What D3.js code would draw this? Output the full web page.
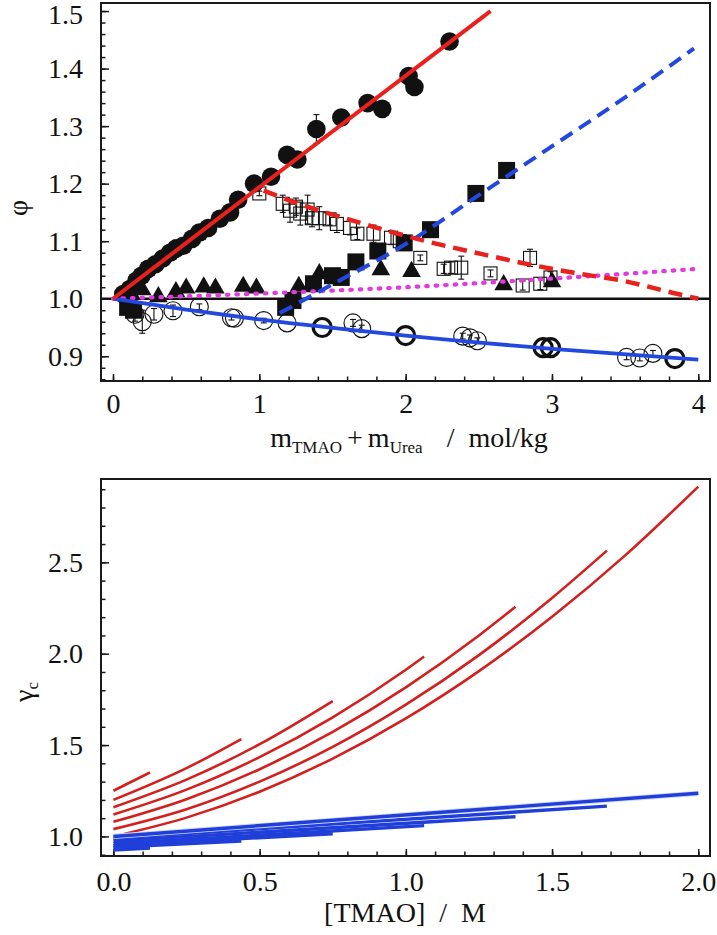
<!DOCTYPE html>
<html><head><meta charset="utf-8">
<script src="https://cdn.jsdelivr.net/npm/d3@7"></script>
<style>
body{margin:0;background:#fff;}
svg{display:block;}
</style></head>
<body>
<svg id="c" width="717" height="935" font-family="Liberation Serif"></svg>
<script>
// ---------- Top panel data (phi vs m_TMAO + m_Urea) ----------
const topXTicks = [0, 1, 2, 3, 4];
const topYTicks = [0.9, 1.0, 1.1, 1.2, 1.3, 1.4, 1.5];
// filled circles [x, y, err]
const filledCircles = [[0.07,1.008,0],[0.116,1.017,0],[0.16,1.031,0.008],[0.195,1.04,0],[0.24,1.052,0],[0.29,1.06,0],[0.34,1.07,0],[0.39,1.08,0],[0.43,1.087,0.015],[0.48,1.092,0],[0.54,1.104,0],[0.59,1.115,0],[0.65,1.123,0],[0.73,1.139,0],[0.80,1.15,0],[0.855,1.172,0],[0.964,1.20,0],[1.08,1.212,0],[1.19,1.25,0],[1.26,1.242,0],[1.39,1.295,0.025],[1.56,1.315,0],[1.74,1.34,0],[1.84,1.33,0],[2.02,1.387,0],[2.06,1.368,0],[2.30,1.447,0]];
// filled squares [x, y]
const filledSquares = [[0.10,0.985],[0.14,0.98],[1.18,0.985],[1.23,0.997],[1.37,1.026],[1.50,1.04],[1.56,1.037],[1.66,1.064],[1.81,1.083],[1.99,1.097],[2.17,1.12],[2.48,1.183],[2.69,1.223]];
// filled triangles [x, y]
const filledTriangles = [[0.12,1.012],[0.2,1.017],[0.31,1.005],[0.43,1.014],[0.5,1.02],[0.62,1.022],[0.7,1.02],[0.89,1.023],[0.98,1.02],[1.27,1.023],[1.41,1.045],[1.83,1.052],[2.04,1.049],[2.67,1.026],[3.0,1.031]];
// open squares [x, y, err]
const openSquares = [[1.0,1.183,0.004],[1.16,1.165,0.015],[1.21,1.153,0.02],[1.25,1.16,0.015],[1.28,1.148,0.02],[1.33,1.155,0.025],[1.36,1.14,0.015],[1.41,1.14,0.02],[1.48,1.138,0.01],[1.53,1.13,0.015],[1.62,1.123,0.012],[1.67,1.113,0.01],[1.78,1.113,0.015],[1.90,1.106,0.012],[1.96,1.10,0.01],[2.10,1.071,0.005],[2.26,1.052,0.008],[2.31,1.054,0.01],[2.38,1.054,0.02],[2.58,1.044,0.006],[2.85,1.071,0.015],[2.80,1.023,0.008],[2.92,1.026,0.01],[2.99,1.037,0.01]];
// open circles [x, y, err, bold]
const openCircles = [[0.12,0.985,0.01,0],[0.15,0.973,0.012,0],[0.2,0.96,0.02,0],[0.28,0.973,0.01,0],[0.41,0.979,0.01,0],[0.59,0.986,0.005,0],[0.81,0.967,0.004,0],[0.83,0.966,0,0],[1.03,0.962,0.004,0],[1.19,0.958,0,0],[1.43,0.95,0,1],[1.64,0.958,0.006,0],[1.70,0.948,0.006,0],[2.0,0.936,0,1],[2.39,0.935,0.005,0],[2.44,0.932,0.005,0],[2.49,0.927,0.005,0],[2.94,0.915,0,1],[2.99,0.915,0,1],[3.51,0.898,0.004,0],[3.60,0.897,0.005,0],[3.69,0.905,0.005,0],[3.84,0.896,0,1]];
// fit lines
const redSolid = [[0,1.0],[2.58,1.5]];
const redDash = [[1.03,1.188],[1.28,1.164],[1.57,1.141],[1.89,1.117],[2.14,1.10],[2.53,1.077],[2.78,1.063],[3.15,1.045],[3.49,1.031],[3.83,1.01],[4.0,1.0]];
const blueDash = [[1.14,0.975],[1.5,1.025],[2.0,1.095],[2.5,1.18],[3.0,1.265],[3.5,1.35],[3.97,1.435]];
const magentaDot = [[0,1.0],[1,1.009],[2,1.02],[3,1.035],[4,1.052]];
const blueSolid = [[0,1.0],[0.5,0.981],[1,0.964],[2,0.936],[3,0.913],[4,0.894]];

// ---------- Bottom panel data (gamma_c vs [TMAO]) ----------
const botXTicks = [0.0, 0.5, 1.0, 1.5, 2.0];
const botYTicks = [1.0, 1.5, 2.0, 2.5];
const redCurves = [
  [[0,1.25],[0.125,1.35]],
  [[0,1.20],[0.25,1.374],[0.4375,1.533]],
  [[0,1.16],[0.25,1.311],[0.5,1.505],[0.75,1.741]],
  [[0,1.12],[0.25,1.256],[0.5,1.434],[0.75,1.652],[1.0,1.912],[1.0625,1.984]],
  [[0,1.08],[0.25,1.204],[0.5,1.368],[0.75,1.572],[1.0,1.816],[1.25,2.10],[1.375,2.257]],
  [[0,1.04],[0.25,1.149],[0.5,1.30],[0.75,1.49],[1.0,1.721],[1.25,1.992],[1.5,2.305],[1.6875,2.564]],
  [[0,1.00],[0.25,1.103],[0.5,1.245],[0.75,1.426],[1.0,1.646],[1.25,1.905],[1.5,2.202],[1.75,2.538],[2.0,2.914]]
];
const blueLines = [
  [[0,0.925],[0.125,0.937]],
  [[0,0.94],[0.4375,0.975]],
  [[0,0.95],[0.75,1.015]],
  [[0,0.96],[1.0625,1.059]],
  [[0,0.975],[1.375,1.108]],
  [[0,0.99],[1.6875,1.166]],
  [[0,1.00],[2.0,1.236]]
];

const svg = d3.select("#c");
const FS = 28;
const FONT = "Liberation Serif";

function frame(x0,y0,x1,y1){
  svg.append("rect").attr("x",x0).attr("y",y0).attr("width",x1-x0).attr("height",y1-y0)
    .attr("fill","none").attr("stroke","#1a1a1a").attr("stroke-width",2);
}
function styleAxis(g){
  g.attr("font-family",FONT).attr("font-size",FS);
  g.select(".domain").remove();
  g.selectAll(".tick line").attr("stroke","#1a1a1a").attr("stroke-width",1.5);
  g.selectAll(".tick text").attr("font-size",FS).attr("fill","#111").attr("font-family",FONT);
}

// ================= TOP PANEL =================
const x1 = d3.scaleLinear([-0.082,4.08],[101,710]);
const y1 = d3.scaleLinear([0.857,1.514],[381,3]);

let g = svg.append("g").attr("transform","translate(0,381)")
  .call(d3.axisBottom(x1).tickValues(d3.range(0,4.001,0.2)).tickSize(-4.5).tickFormat(""));
styleAxis(g);
g = svg.append("g").attr("transform","translate(0,381)")
  .call(d3.axisBottom(x1).tickValues(topXTicks).tickSize(-7).tickPadding(12).tickFormat(d3.format("d")));
styleAxis(g);
g = svg.append("g").attr("transform","translate(101,0)")
  .call(d3.axisLeft(y1).tickValues(d3.range(0.86,1.5001,0.02)).tickSize(-4.5).tickFormat(""));
styleAxis(g);
g = svg.append("g").attr("transform","translate(101,0)")
  .call(d3.axisLeft(y1).tickValues(topYTicks).tickSize(-8).tickPadding(18).tickFormat(d3.format(".1f")));
styleAxis(g);
// keep the topmost label inside the picture
g.selectAll(".tick text").filter(d=>d===1.5).attr("dy","0.45em");

svg.append("clipPath").attr("id","clipTop").append("rect")
  .attr("x",101).attr("y",3).attr("width",609).attr("height",378);
const pT = svg.append("g").attr("clip-path","url(#clipTop)");

pT.append("line").attr("x1",101).attr("x2",710).attr("y1",y1(1)).attr("y2",y1(1))
  .attr("stroke","#111").attr("stroke-width",2.6);

function errbar(gr, x, y, e){
  if(!e) return;
  const px=x1(x), ya=y1(y+e), yb=y1(y-e);
  gr.append("line").attr("x1",px).attr("x2",px).attr("y1",ya).attr("y2",yb).attr("stroke","#111").attr("stroke-width",1.1);
  gr.append("line").attr("x1",px-3).attr("x2",px+3).attr("y1",ya).attr("y2",ya).attr("stroke","#111").attr("stroke-width",1.1);
  gr.append("line").attr("x1",px-3).attr("x2",px+3).attr("y1",yb).attr("y2",yb).attr("stroke","#111").attr("stroke-width",1.1);
}

openCircles.forEach(d=>{
  pT.append("circle").attr("cx",x1(d[0])).attr("cy",y1(d[1])).attr("r",9)
    .attr("fill","none").attr("stroke","#111").attr("stroke-width",d[3]?3.2:1.1);
  errbar(pT,d[0],d[1],d[2]);
});
openSquares.forEach(d=>{
  const s=13;
  pT.append("rect").attr("x",x1(d[0])-s/2).attr("y",y1(d[1])-s/2).attr("width",s).attr("height",s)
    .attr("fill","none").attr("stroke","#111").attr("stroke-width",1.1);
  errbar(pT,d[0],d[1],d[2]);
});
const tri = d3.symbol().type(d3.symbolTriangle).size(150);
filledTriangles.forEach(d=>{
  pT.append("path").attr("d",tri()).attr("transform",`translate(${x1(d[0])},${y1(d[1])+1})`).attr("fill","#111");
});
filledSquares.forEach(d=>{
  const s=17;
  pT.append("rect").attr("x",x1(d[0])-s/2).attr("y",y1(d[1])-s/2).attr("width",s).attr("height",s).attr("fill","#111");
});
filledCircles.forEach(d=>{
  errbar(pT,d[0],d[1],d[2]);
  pT.append("circle").attr("cx",x1(d[0])).attr("cy",y1(d[1])).attr("r",9.3).attr("fill","#111");
});

const lineT = d3.line().x(d=>x1(d[0])).y(d=>y1(d[1])).curve(d3.curveMonotoneX);
pT.append("path").attr("d",lineT(magentaDot)).attr("fill","none").attr("stroke","#e23ae0")
  .attr("stroke-width",4.2).attr("stroke-dasharray","1.5,8").attr("stroke-linecap","round");
pT.append("path").attr("d",lineT(blueSolid)).attr("fill","none").attr("stroke","#2348e0").attr("stroke-width",3.8);
pT.append("path").attr("d",lineT(blueDash)).attr("fill","none").attr("stroke","#2348e0")
  .attr("stroke-width",4).attr("stroke-dasharray","14,8");
pT.append("path").attr("d",lineT(redDash)).attr("fill","none").attr("stroke","#e8211c")
  .attr("stroke-width",4.5).attr("stroke-dasharray","14,8");
pT.append("path").attr("d",lineT(redSolid)).attr("fill","none").attr("stroke","#e8211c").attr("stroke-width",4);

frame(101,3,710,381);

const tl = svg.append("text").attr("x",409).attr("y",447).attr("text-anchor","middle")
  .attr("font-family",FONT).attr("font-size",FS).attr("fill","#111");
tl.append("tspan").text("m");
tl.append("tspan").attr("font-size",17).attr("dy",6).text("TMAO");
tl.append("tspan").attr("dy",-6).attr("dx",5).text("+");
tl.append("tspan").attr("dx",5).text("m");
tl.append("tspan").attr("font-size",17).attr("dy",6).text("Urea");
tl.append("tspan").attr("dy",-6).attr("dx",24).text("/");
tl.append("tspan").attr("dx",14).text("mol/kg");

svg.append("text").attr("transform","translate(27,208) rotate(-90)").attr("text-anchor","middle")
  .attr("font-family",FONT).attr("font-size",FS).attr("fill","#111").text("φ");

// ================= BOTTOM PANEL =================
const x2 = d3.scaleLinear([-0.0424,2.04],[101,710]);
const y2 = d3.scaleLinear([0.893,2.956],[856,479]);

g = svg.append("g").attr("transform","translate(0,856)")
  .call(d3.axisBottom(x2).tickValues(d3.range(0,2.001,0.1)).tickSize(-4.5).tickFormat(""));
styleAxis(g);
g = svg.append("g").attr("transform","translate(0,856)")
  .call(d3.axisBottom(x2).tickValues(botXTicks).tickSize(-7).tickPadding(15).tickFormat(d3.format(".1f")));
styleAxis(g);
g = svg.append("g").attr("transform","translate(101,0)")
  .call(d3.axisLeft(y2).tickValues(d3.range(0.9,2.9501,0.1)).tickSize(-4.5).tickFormat(""));
styleAxis(g);
g = svg.append("g").attr("transform","translate(101,0)")
  .call(d3.axisLeft(y2).tickValues(botYTicks).tickSize(-8).tickPadding(18).tickFormat(d3.format(".1f")));
styleAxis(g);

const lineB = d3.line().x(d=>x2(d[0])).y(d=>y2(d[1])).curve(d3.curveMonotoneX);
const pB = svg.append("g");
redCurves.forEach(c=>{
  pB.append("path").attr("d",lineB(c)).attr("fill","none").attr("stroke","#d41f1f").attr("stroke-width",2.6);
});
blueLines.forEach((c,i)=>{
  if(i===blueLines.length-1){
    pB.append("path").attr("d",lineB(c)).attr("fill","none").attr("stroke","#cfd8ff").attr("stroke-width",5.2);
  }
  pB.append("path").attr("d",lineB(c)).attr("fill","none").attr("stroke","#1f3fd8").attr("stroke-width",3.4);
});

frame(101,479,710,856);

svg.append("text").attr("x",405).attr("y",922).attr("text-anchor","middle").attr("font-size",FS)
  .attr("font-family",FONT).attr("fill","#111").attr("xml:space","preserve").style("white-space","pre").text("[TMAO]  /  M");

const gl = svg.append("text").attr("transform","translate(33,692) rotate(-90)").attr("text-anchor","middle")
  .attr("font-family",FONT).attr("font-size",FS).attr("fill","#111");
gl.append("tspan").text("γ");
gl.append("tspan").attr("font-size",17).attr("dy",5).text("c");
</script>
</body></html>
